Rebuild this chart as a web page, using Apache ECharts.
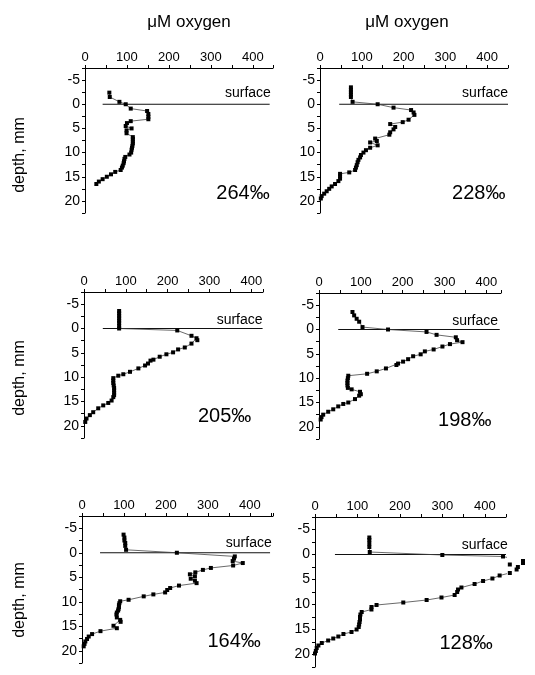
<!DOCTYPE html>
<html>
<head>
<meta charset="utf-8">
<script src="https://cdn.jsdelivr.net/npm/echarts@6/dist/echarts.min.js"></script>
<style>html,body{margin:0;padding:0;background:#fff}#c{width:535px;height:675px}</style>
</head>
<body>
<div id="c"></div>
<script>
// ---- data ----
var xTickLabels = ['0','100','200','300','400'];
var yTickLabels = ['-5','0','5','10','15','20'];
var xTitle = 'μM oxygen';
var yTitle = 'depth, mm';
var surfaceText = 'surface';
var salinityLabels = ['264‰','228‰','205‰','198‰','164‰','128‰'];

var depth1 = [-2.4,-1.5,-0.5,0,0.9,1.4,2.0,2.6,3.1,3.5,3.9,4.5,5.0,5.4,6.0,6.8,7.2,7.7,8.1,8.6,9.0,9.4,10.0,10.4,10.9,11.3,11.8,12.2,12.7,13.1,13.6,14.0,14.5,15.0,15.5,16.0,16.5];
var oxygen1 = [58,59,82,97,109,148,151,151,151,109,100,97,111,99,99,114,114,114,114,113,112,111,110,106,96,94,93,92,90,88,85,72,62,52,42,33,27];

var depth2 = [-3.5,-3.0,-2.5,-2.0,-1.5,-0.5,0,0.7,1.2,1.7,2.2,3.2,3.7,4.1,4.7,5.2,5.8,6.3,7.1,7.6,7.9,8.5,9.0,9.5,10.0,10.5,11.0,11.5,12.0,12.6,13.1,13.6,14.1,14.4,14.9,15.4,15.9,16.5,17.0,17.5,18.0,18.5,19.0,19.5];
var oxygen2 = [74,74,74,74,74,78,138,176,218,224,226,212,198,168,180,176,168,166,132,136,120,138,120,110,104,98,96,92,90,88,86,84,70,48,48,48,44,36,28,22,16,10,4,2];

var depth3 = [-3.6,-3.1,-2.6,-2.1,-1.6,-1.1,-0.5,0,0.4,1.5,2.0,2.4,3.1,3.9,4.3,4.9,5.3,5.8,6.4,6.6,7.2,7.6,8.2,8.9,9.4,9.7,10.2,10.7,11.2,11.7,12.2,12.7,13.2,13.7,14.1,14.8,15.3,15.8,16.4,17.2,17.8,18.5,19.2];
var oxygen3 = [84,84,84,84,84,84,84,84,223,257,269,271,257,241,225,213,197,181,166,159,153,146,130,110,94,82,70,70,70,71,72,72,72,72,70,66,58,46,34,22,14,6,3];

var depth4 = [-3.6,-2.9,-2.2,-1.6,-0.5,0,0.5,1.1,1.6,2.2,2.6,3.0,3.5,4.1,4.5,5.1,5.5,6.1,6.6,7.0,7.3,8.0,8.6,9.1,9.5,10.0,10.5,11.0,11.5,12.0,12.3,12.8,13.3,13.6,14.3,15.0,15.3,15.8,16.4,16.9,17.5,18.0,18.5];
var oxygen4 = [80,84,90,96,104,165,257,281,327,330,343,313,295,274,253,243,225,213,201,189,185,160,138,115,70,69,68,68,68,69,78,98,100,96,86,70,58,46,34,22,10,6,4];

var depth5 = [-3.7,-3.1,-2.5,-2.0,-1.4,-0.6,0,0.75,1.2,1.7,2.1,2.6,3.1,3.5,4.0,4.4,4.8,5.3,5.7,6.2,6.7,7.2,7.6,8.1,8.5,8.9,9.6,9.9,10.3,10.7,11.1,11.5,11.8,12.2,12.6,13.2,13.7,14.1,14.9,15.4,16.0,16.6,17.1,17.6,18.1,18.6,19.1];
var oxygen5 = [99,101,101,103,103,105,226,364,362,359,383,360,307,288,270,257,269,259,269,273,231,210,203,198,170,147,111,91,89,88,88,87,86,83,82,83,91,92,75,83,44,24,16,12,8,6,4];

var depth6 = [-3.4,-2.9,-2.2,-1.5,-0.5,0.1,0.4,1.3,1.7,2.0,2.5,3.0,3.7,4.2,4.8,5.3,5.9,6.6,7.0,7.5,8.1,8.6,9.1,9.6,10.1,10.5,11.0,11.5,12.0,12.5,13.0,13.5,14.0,14.5,15.0,15.5,15.9,16.4,16.8,17.2,17.7,18.2,18.7,19.3,19.8];
var oxygen6 = [128,128,128,128,129,300,443,490,490,459,478,475,459,435,418,396,376,345,337,335,329,298,263,208,145,133,133,110,107,106,106,105,104,103,98,86,67,55,43,31,16,8,4,2,0];

var depths = [depth1, depth2, depth3, depth4, depth5, depth6];
var oxygens = [oxygen1, oxygen2, oxygen3, oxygen4, oxygen5, oxygen6];

// ---- layout (not data) ----
var FONT = 'Liberation Sans, Arial, sans-serif';
var panels = [
  {left:85,  top:68,  width:188, height:145, xmax:448, surf:[42,440], surfLab:[443,-2.3], pct:[440,18.4]},
  {left:320, top:68,  width:188, height:145, xmax:450, surf:[46,450], surfLab:[450,-2.2], pct:[444,18.4]},
  {left:84,  top:292, width:179, height:146, xmax:428, surf:[45,427], surfLab:[427,-1.75], pct:[400,18.1]},
  {left:319, top:293, width:182, height:146, xmax:435, surf:[46,432], surfLab:[428,-1.7], pct:[412,18.6]},
  {left:82,  top:516, width:191, height:147, xmax:455, surf:[43,448], surfLab:[452,-1.9], pct:[426,18.2]},
  {left:315, top:517, width:191, height:150, xmax:450, surf:[47,450], surfLab:[454,-1.9], pct:[419,17.7]}
];

var grids = [], xAxes = [], yAxes = [], series = [];
panels.forEach(function (p, i) {
  grids.push({left:p.left, top:p.top, width:p.width, height:p.height, containLabel:false});
  xAxes.push({
    type:'value', gridIndex:i, position:'top', min:0, max:p.xmax, interval:50,
    axisLine:{show:true, onZero:false, lineStyle:{color:'#000', width:1}},
    axisTick:{show:true, inside:false, length:3, lineStyle:{color:'#000'}},
    splitLine:{show:false},
    axisLabel:{show:true, color:'#000', fontSize:13, fontFamily:FONT, margin:4,
      formatter:function (v) { var s = String(v); return xTickLabels.indexOf(s) >= 0 ? s : ''; }}
  });
  yAxes.push({
    type:'value', gridIndex:i, inverse:true, min:-7.5, max:22.5, interval:2.5,
    axisLine:{show:true, onZero:false, lineStyle:{color:'#000', width:1}},
    axisTick:{show:true, inside:false, length:3, lineStyle:{color:'#000'}},
    splitLine:{show:false},
    axisLabel:{show:true, color:'#000', fontSize:14, fontFamily:FONT, margin:5,
      formatter:function (v) { var s = String(v); return yTickLabels.indexOf(s) >= 0 ? s : ''; }}
  });
  // surface line
  series.push({
    type:'line', xAxisIndex:i, yAxisIndex:i, symbol:'none', silent:true, clip:false,
    lineStyle:{color:'#111', width:1},
    data:[[p.surf[0], 0], [p.surf[1], 0]], z:2
  });
  // profile
  var d = depths[i], o = oxygens[i];
  series.push({
    type:'line', xAxisIndex:i, yAxisIndex:i, clip:false,
    symbol:'rect', symbolSize:4, showAllSymbol:true,
    itemStyle:{color:'#000'},
    lineStyle:{color:'#444', width:0.8},
    data:d.map(function (dd, k) { return [o[k], dd]; }), z:3
  });
  // text annotations
  var lab = function (size) {
    return {show:true, position:'left', distance:0, formatter:'{b}', color:'#000', opacity:1,
      textBorderWidth:0, fontSize:size, fontFamily:FONT};
  };
  series.push({
    type:'scatter', xAxisIndex:i, yAxisIndex:i, clip:false, symbolSize:0, silent:true,
    itemStyle:{color:'#000', opacity:1},
    data:[
      {name:surfaceText, value:[p.surfLab[0], p.surfLab[1]], label:lab(14)},
      {name:salinityLabels[i], value:[p.pct[0], p.pct[1]], label:lab(20)}
    ], z:4
  });
});

var chart = echarts.init(document.getElementById('c'), null, {renderer:'canvas'});
chart.setOption({
  animation:false,
  backgroundColor:'#fff',
  title:[
    {text:xTitle, left:184, top:9, textAlign:'center', textStyle:{fontSize:17, fontWeight:'normal', color:'#000', fontFamily:FONT}},
    {text:xTitle, left:402, top:9, textAlign:'center', textStyle:{fontSize:17, fontWeight:'normal', color:'#000', fontFamily:FONT}}
  ],
  graphic:[155, 378, 600].map(function (y) {
    return {type:'text', x:20, y:y, rotation:Math.PI/2,
      style:{text:yTitle, align:'center', verticalAlign:'middle', fill:'#000', font:'16px ' + FONT}};
  }),
  grid:grids, xAxis:xAxes, yAxis:yAxes, series:series
});
</script>
</body>
</html>
